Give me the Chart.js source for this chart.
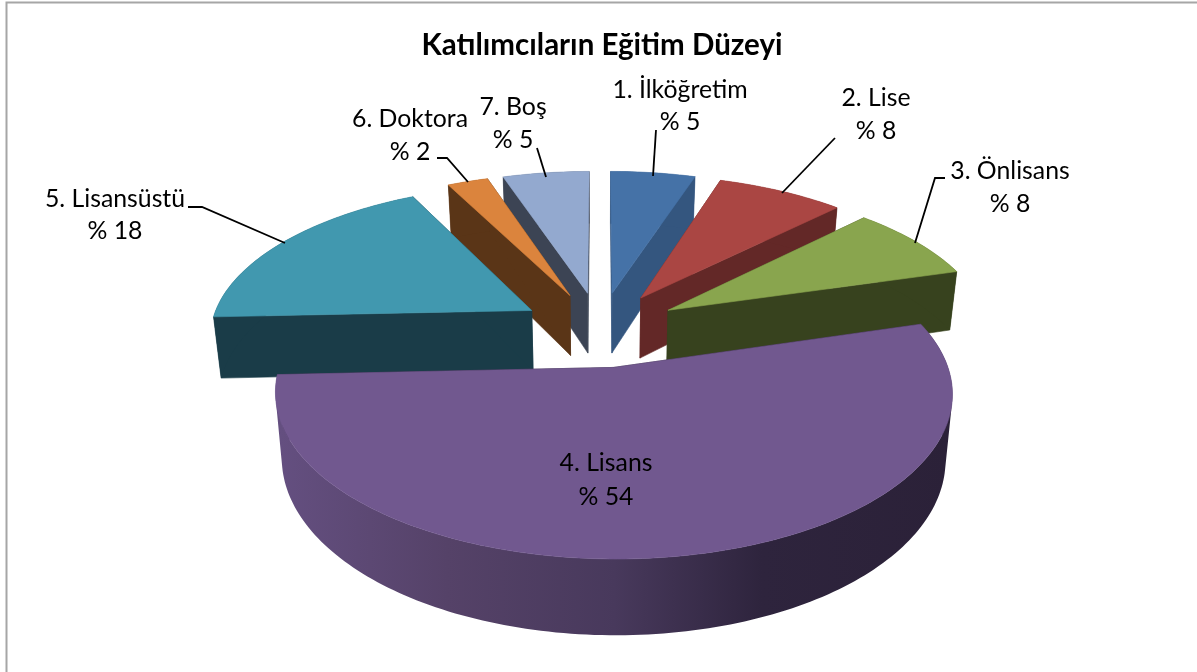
<!DOCTYPE html>
<html lang="tr">
<head>
<meta charset="utf-8">
<style>
html,body{margin:0;padding:0;background:#fff;overflow:hidden}
canvas{display:block}
</style>
<script src="https://cdn.jsdelivr.net/npm/chart.js@4/dist/chart.umd.min.js"></script>
</head>
<body>
<canvas id="c" width="1197" height="672"></canvas>
<script>
const categories = ["1. İlköğretim","2. Lise","3. Önlisans","4. Lisans","5. Lisansüstü","6. Doktora","7. Boş"];
const values = [5,7.5,8,53.8,18.2,2.4,5.1];
const chartTitle = "Katılımcıların Eğitim Düzeyi";
const topColors = ["#4572a7","#aa4643","#89a54e","#71588f","#4198af","#db843d","#93a9cf"];
const sideColors = ["#34567f","#632827","#37421e","#2b2138","#1a3c48","#5a3517","#3c4454"];
const explode = 0.25;
const view = {cx:600, cy:329, A:322, B:150, k:0.15, D:62, taper:0.02};
const labelPlace = [
  {x:680,y1:90,y2:122,line:[[656,130],[653,176]]},
  {x:876,y1:98,y2:131,line:[[835,138],[782,193]]},
  {x:1010,y1:171,y2:204,line:[[945,178],[935,178],[915,243]]},
  {x:606,y1:463,y2:497,line:null},
  {x:115,y1:199,y2:231,line:[[188,207],[202,207],[285,243]]},
  {x:410,y1:119,y2:152,line:[[437,158],[447,158],[468,182]]},
  {x:513,y1:107,y2:140,line:[[537,148],[546,177]]}
];

function project(X,Z,h){
  const w = 1 - view.k*Z;
  return [view.cx + view.A*X/(w*(1+view.taper*h)), view.cy + (view.B*Z + view.D*h)/w];
}
function poly(ctx,pts,fill){
  ctx.beginPath();
  pts.forEach((p,i)=> i ? ctx.lineTo(p[0],p[1]) : ctx.moveTo(p[0],p[1]));
  ctx.closePath();
  ctx.fillStyle = fill;
  ctx.fill();
  ctx.strokeStyle = fill;
  ctx.lineWidth = 0.6;
  ctx.stroke();
}
function band(ctx,top,low,fill){
  // every quad wound the same way, so one fill covers the band without seams
  ctx.beginPath();
  for(let j=0;j<top.length-1;j++){
    let q = [top[j],top[j+1],low[j+1],low[j]];
    let area = 0;
    q.forEach((p,i)=>{ const r = q[(i+1)%4]; area += p[0]*r[1]-r[0]*p[1]; });
    if(area<0) q = q.reverse();
    q.forEach((p,i)=> i ? ctx.lineTo(p[0],p[1]) : ctx.moveTo(p[0],p[1]));
    ctx.closePath();
  }
  ctx.fillStyle = fill;
  ctx.fill('nonzero');
}
const pie3d = {
  id:'pie3d',
  beforeDatasetsDraw(chart){
    const ctx = chart.ctx;
    const arcs = chart.getDatasetMeta(0).data.map((el,i)=>{
      const s = el.startAngle + Math.PI/2, e = el.endAngle + Math.PI/2;
      return {i,s,e,mid:(s+e)/2};
    });
    arcs.sort((a,b)=> -Math.cos(a.mid) - -Math.cos(b.mid));
    arcs.forEach(a=>{
      const ox = explode*Math.sin(a.mid), oz = -explode*Math.cos(a.mid);
      const n = Math.max(6, Math.ceil((a.e-a.s)/0.02));
      const rim = [];
      for(let j=0;j<=n;j++){
        const t = a.s + (a.e-a.s)*j/n;
        rim.push([ox+Math.sin(t), oz-Math.cos(t)]);
      }
      const topRim = rim.map(p=>project(p[0],p[1],0));
      const lowRim = rim.map(p=>project(p[0],p[1],1));
      const apexT = project(ox,oz,0), apexB = project(ox,oz,1);
      const side = sideColors[a.i];
      poly(ctx,[apexT,topRim[0],lowRim[0],apexB],side);
      poly(ctx,[apexT,topRim[n],lowRim[n],apexB],side);
      let rimFill = side;
      if(a.mid > 1.5 && a.mid < 4.5){
        rimFill = ctx.createLinearGradient(280,0,950,0);
        rimFill.addColorStop(0,"#644f80");
        rimFill.addColorStop(0.25,"#554268");
        rimFill.addColorStop(0.5,"#48395c");
        rimFill.addColorStop(0.72,"#2e243d");
        rimFill.addColorStop(1,"#2b2138");
      }
      band(ctx,topRim,lowRim,rimFill);
      poly(ctx,[apexT].concat(topRim),topColors[a.i]);
    });
    return false;
  },
  afterDraw(chart){
    const ctx = chart.ctx;
    ctx.save();
    ctx.strokeStyle = "#a6a6a6";
    ctx.lineWidth = 2;
    ctx.beginPath();
    ctx.moveTo(6.5,672); ctx.lineTo(6.5,2.5); ctx.lineTo(1197,2.5);
    ctx.stroke();
    ctx.fillStyle = "#000";
    ctx.textAlign = "center";
    ctx.textBaseline = "middle";
    ctx.font = "bold 29.5px Lato";
    ctx.fillText(chartTitle,602,45);
    ctx.font = "24.8px Lato";
    categories.forEach((name,i)=>{
      const p = labelPlace[i];
      ctx.fillStyle = "#000";
      ctx.fillText(name,p.x,p.y1);
      ctx.fillText("% "+Math.round(values[i]),p.x,p.y2);
      if(p.line){
        ctx.strokeStyle="#000"; ctx.lineWidth=1.8;
        ctx.beginPath();
        p.line.forEach((q,j)=> j?ctx.lineTo(q[0],q[1]):ctx.moveTo(q[0],q[1]));
        ctx.stroke();
      }
    });
    ctx.restore();
  }
};
new Chart(document.getElementById('c'),{
  type:'pie',
  data:{labels:categories,datasets:[{data:values,backgroundColor:topColors,borderWidth:0}]},
  options:{
    responsive:false,
    animation:false,
    plugins:{legend:{display:false},tooltip:{enabled:false}}
  },
  plugins:[pie3d]
});
</script>
</body>
</html>
